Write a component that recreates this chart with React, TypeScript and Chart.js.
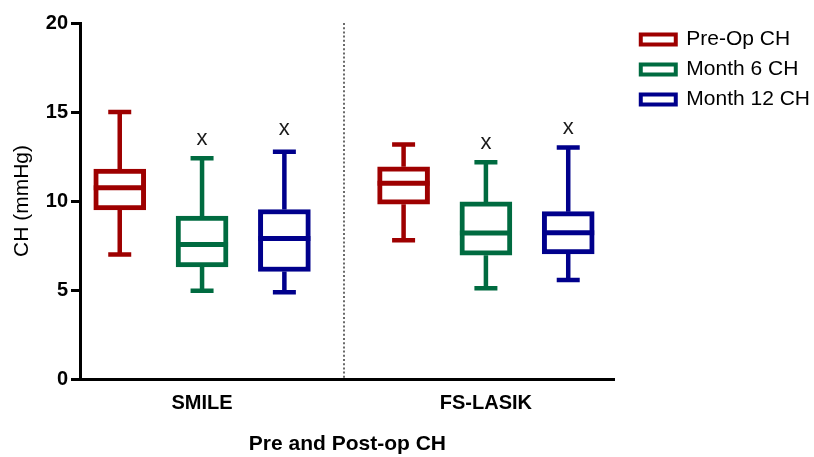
import React, { useEffect, useRef } from 'react';
import { Chart, registerables } from 'chart.js';

Chart.register(...registerables);

const FONT = "'Liberation Sans', Arial, sans-serif";

const CATEGORIES = ['SMILE', 'FS-LASIK'];
const SERIES_NAMES = ['Pre-Op CH', 'Month 6 CH', 'Month 12 CH'];
const SERIES_COLORS = ['#9e0000', '#006b40', '#00008c'];

// Pre-Op CH (SMILE, FS-LASIK)
const PRE_MIN = [7.0, 7.8];
const PRE_Q1 = [9.5, 9.82];
const PRE_MED = [10.75, 11.0];
const PRE_Q3 = [11.8, 11.92];
const PRE_MAX = [15.0, 13.18];
const PRE_MARK: (number | null)[] = [null, null];

// Month 6 CH
const M6_MIN = [4.96, 5.1];
const M6_Q1 = [6.3, 6.95];
const M6_MED = [7.55, 8.2];
const M6_Q3 = [9.15, 9.95];
const M6_MAX = [12.4, 12.17];
const M6_MARK: (number | null)[] = [13.48, 13.25];

// Month 12 CH
const M12_MIN = [4.87, 5.56];
const M12_Q1 = [6.04, 7.02];
const M12_MED = [7.9, 8.22];
const M12_Q3 = [9.52, 9.4];
const M12_MAX = [12.77, 13.0];
const M12_MARK: (number | null)[] = [14.03, 14.08];

const Y_MIN = 0;
const Y_MAX = 20;
const Y_STEP = 5;

const SERIES = [
  { min: PRE_MIN, q1: PRE_Q1, med: PRE_MED, q3: PRE_Q3, max: PRE_MAX, mark: PRE_MARK },
  { min: M6_MIN, q1: M6_Q1, med: M6_MED, q3: M6_Q3, max: M6_MAX, mark: M6_MARK },
  { min: M12_MIN, q1: M12_Q1, med: M12_MED, q3: M12_Q3, max: M12_MAX, mark: M12_MARK },
];

const GROUP_OFFSET = 0.29;
const BOX_W = 52;
const CAP_W = 23;

const boxPlugin = {
  id: 'boxWhiskers',
  beforeDatasetsDraw(chart: any) {
    const { ctx, chartArea, scales } = chart;
    const xs = scales.x;
    ctx.save();
    ctx.strokeStyle = '#6a6a6a';
    ctx.lineWidth = 2;
    ctx.setLineDash([2, 2.2]);
    const dx = Math.round(xs.getPixelForValue(1.5));
    ctx.beginPath();
    ctx.moveTo(dx, chartArea.top);
    ctx.lineTo(dx, chartArea.bottom);
    ctx.stroke();
    ctx.restore();
  },
  afterDatasetsDraw(chart: any) {
    const { ctx, scales } = chart;
    const ys = scales.y;
    SERIES.forEach((s, si) => {
      const meta = chart.getDatasetMeta(si);
      meta.data.forEach((bar: any, ci: number) => {
        const cx = bar.x;
        const color = SERIES_COLORS[si];
        const pMax = ys.getPixelForValue(s.max[ci]);
        const pMin = ys.getPixelForValue(s.min[ci]);
        const pQ1 = ys.getPixelForValue(s.q1[ci]);
        const pQ3 = ys.getPixelForValue(s.q3[ci]);
        const pMed = ys.getPixelForValue(s.med[ci]);
        ctx.save();
        ctx.strokeStyle = color;
        ctx.lineCap = 'butt';
        ctx.lineWidth = 4.5;
        ctx.beginPath();
        ctx.moveTo(cx, pQ3);
        ctx.lineTo(cx, pMax);
        ctx.moveTo(cx, pQ1);
        ctx.lineTo(cx, pMin);
        ctx.moveTo(cx - CAP_W / 2, pMax);
        ctx.lineTo(cx + CAP_W / 2, pMax);
        ctx.moveTo(cx - CAP_W / 2, pMin);
        ctx.lineTo(cx + CAP_W / 2, pMin);
        ctx.stroke();
        ctx.lineWidth = 5;
        ctx.beginPath();
        ctx.moveTo(cx - BOX_W / 2, pMed);
        ctx.lineTo(cx + BOX_W / 2, pMed);
        ctx.stroke();
        const m = s.mark[ci];
        if (m !== null && m !== undefined) {
          const size = 22;
          ctx.fillStyle = '#1a1a1a';
          ctx.font = `${size}px ${FONT}`;
          ctx.textAlign = 'center';
          ctx.textBaseline = 'alphabetic';
          ctx.fillText('x', cx, ys.getPixelForValue(m) + size * 0.26);
        }
        ctx.restore();
      });
    });
  },
};

export default function App() {
  const ref = useRef<HTMLCanvasElement | null>(null);

  useEffect(() => {
    if (!ref.current) return;
    const datasets = SERIES.map((s, si) => ({
      type: 'bar' as const,
      label: SERIES_NAMES[si],
      data: CATEGORIES.map((_, ci) => ({
        x: ci + 1 + (si - 1) * GROUP_OFFSET,
        y: [s.q1[ci], s.q3[ci]],
      })),
      backgroundColor: '#ffffff',
      borderColor: SERIES_COLORS[si],
      borderWidth: 5,
      borderSkipped: false,
      barThickness: BOX_W,
      grouped: false,
      xAxisID: 'x',
      yAxisID: 'y',
    }));

    const chart = new Chart(ref.current, {
      type: 'bar',
      data: { datasets: datasets as any },
      plugins: [boxPlugin],
      options: {
        responsive: false,
        animation: false,
        devicePixelRatio: 1,
        layout: { padding: { left: 0, right: -6, top: 20, bottom: 0 } },
        plugins: {
          tooltip: { enabled: false },
          legend: {
            position: 'right',
            align: 'start',
            maxWidth: 400,
            labels: {
              boxWidth: 35,
              boxHeight: 10,
              padding: 9,
              color: '#000',
              font: { family: FONT, size: 21 },
              generateLabels(c: any) {
                const items = (Chart.defaults as any).plugins.legend.labels.generateLabels(c);
                items.forEach((it: any) => {
                  it.lineWidth = 4;
                  it.fillStyle = '#ffffff';
                });
                return items;
              },
            },
          },
        },
        scales: {
          x: {
            type: 'linear',
            position: 'bottom',
            offset: false,
            min: 0.57,
            max: 2.454,
            afterBuildTicks: (s: any) => {
              s.ticks = CATEGORIES.map((_, i) => ({ value: i + 1 }));
            },
            ticks: {
              callback: (v: any) => CATEGORIES[Math.round(Number(v)) - 1] ?? '',
              font: { family: FONT, size: 20, weight: 'bold' },
              color: '#000',
              padding: 12,
              maxRotation: 0,
              autoSkip: false,
            },
            grid: { display: false, drawTicks: false, offset: false },
            border: { display: true, color: '#000', width: 3 },
            title: {
              display: true,
              text: 'Pre and Post-op CH',
              font: { family: FONT, size: 21, weight: 'bold' },
              color: '#000',
              padding: { top: 0, bottom: 0 },
            },
            afterFit: (s: any) => {
              s.height = 78;
            },
          },
          xTop: {
            type: 'linear',
            position: 'top',
            display: true,
            grid: { display: false, drawTicks: false },
            border: { display: false },
            ticks: { display: false },
            afterFit: (s: any) => {
              s.height = 3;
            },
          },
          y: {
            type: 'linear',
            position: 'left',
            min: Y_MIN,
            max: Y_MAX,
            ticks: {
              stepSize: Y_STEP,
              font: { family: FONT, size: 20, weight: 'bold' },
              color: '#000',
              padding: 3,
            },
            grid: {
              drawOnChartArea: false,
              drawTicks: true,
              tickLength: 9,
              tickWidth: 3,
              tickColor: '#000',
            },
            border: { display: true, color: '#000', width: 3 },
            title: {
              display: true,
              text: 'CH (mmHg)',
              font: { family: FONT, size: 21 },
              color: '#000',
              padding: { top: 10, bottom: 0 },
            },
            afterFit: (s: any) => {
              s.width = 80;
            },
          },
          yRight: {
            type: 'linear',
            position: 'right',
            display: true,
            grid: { display: false, drawTicks: false },
            border: { display: false },
            ticks: { display: false },
            afterFit: (s: any) => {
              s.width = 17;
            },
          },
        },
      } as any,
    });
    return () => chart.destroy();
  }, []);

  return (
    <div style={{ position: 'fixed', left: 0, top: 0, width: 814, height: 457, background: '#fff' }}>
      <canvas ref={ref} width={814} height={457} style={{ display: 'block' }} />
    </div>
  );
}
